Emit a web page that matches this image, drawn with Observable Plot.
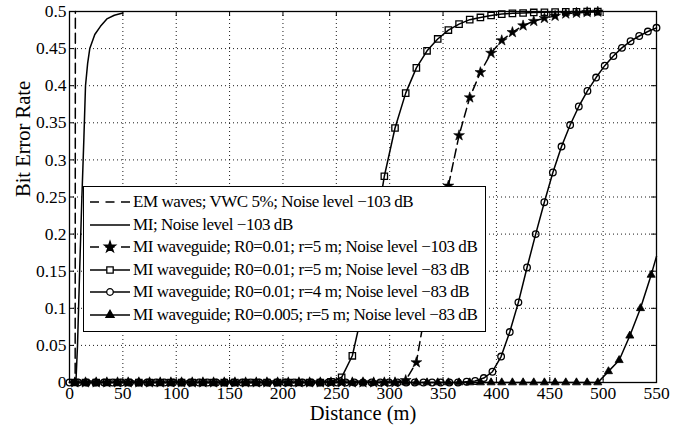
<!DOCTYPE html>
<html><head><meta charset="utf-8">
<script src="https://cdn.jsdelivr.net/npm/d3@7"></script>
<script src="https://cdn.jsdelivr.net/npm/@observablehq/plot@0.6"></script>
<style>
html,body{margin:0;padding:0;background:#fff;}
#wrap{position:relative;width:685px;height:430px;overflow:hidden;background:#fff;}
#wrap svg text{font-family:"Liberation Serif","Times New Roman",serif;}
#legend{position:absolute;left:83px;top:186px;width:403px;height:146px;box-sizing:border-box;border:1.3px solid #000;background:#fff;font-family:"Liberation Serif","Times New Roman",serif;font-size:17px;letter-spacing:-0.45px;color:#000;}
.row{position:absolute;left:0;height:22px;display:flex;align-items:center;white-space:nowrap;}
.row svg{margin-left:6px;margin-right:3px;flex:none;}
</style></head><body>
<div id="wrap"><div id="legend"></div></div>
<script>
// ---- axes ----
const xTicks = [0,50,100,150,200,250,300,350,400,450,500,550];
const yTicks = [0,0.05,0.1,0.15,0.2,0.25,0.3,0.35,0.4,0.45,0.5];
const yTickLabels = ["0","0.05","0.1","0.15","0.2","0.25","0.3","0.35","0.4","0.45","0.5"];
const xLabel = "Distance (m)";
const yLabel = "Bit Error Rate";

// ---- EM waves; VWC 5%; Noise level -103 dB ----
const emX = [0, 5.3, 5.5];
const emY = [0, 0, 0.5];

// ---- MI; Noise level -103 dB ----
const miX = [0, 6, 7.5, 9.5, 11.5, 13.5, 15, 17, 19, 23.7, 29, 35, 42, 50];
const miY = [0, 0, 0.05, 0.15, 0.245, 0.33, 0.40, 0.43, 0.45, 0.469, 0.48, 0.49, 0.495, 0.498];

// ---- waveguide samples, 10 m spacing (stars and squares) ----
const wgX = [5,15,25,35,45,55,65,75,85,95,105,115,125,135,145,155,165,175,185,195,205,215,225,235,245,
             255,265,275,285,295,305,315,325,335,345,355,365,375,385,395,405,415,425,435,445,455,465,475,485,495];
// R0=0.01; r=5 m; Noise -103 dB (stars, dashed)
const starY = [0,0,0,0,0,0,0,0,0,0,0,0,0,0,0,0,0,0,0,0,0,0,0,0,0,0,0,0,0,0,0,
               0.003,0.027,0.11,0.19,0.265,0.333,0.384,0.418,0.444,0.461,0.472,0.481,0.487,0.491,0.494,0.497,0.498,0.499,0.4995];
// R0=0.01; r=5 m; Noise -83 dB (squares)
const squareY = [0,0,0,0,0,0,0,0,0,0,0,0,0,0,0,0,0,0,0,0,0,0,0,0,0.001,
                 0.007,0.036,0.10,0.19,0.278,0.343,0.390,0.424,0.447,0.463,0.475,0.483,0.489,0.492,0.4946,0.4965,0.4975,0.498,0.4987,0.499,0.4993,0.4995,0.4997,0.4998,0.4999];

// ---- R0=0.01; r=4 m; Noise -83 dB (circles) ----
const circleX = [0,8.1,16.2,24.3,32.4,40.4,48.5,56.6,64.7,72.8,80.9,89.0,97.1,105.1,113.2,121.3,129.4,137.5,145.6,153.7,
                 161.8,169.9,177.9,186.0,194.1,202.2,210.3,218.4,226.5,234.6,242.6,250.7,258.8,266.9,275.0,283.1,291.2,299.3,307.4,315.4,
                 323.5,331.6,339.7,347.8,355.9,364.0,372.1,380.1,388.2,396.3,404.4,412.5,420.6,428.7,436.8,444.9,452.9,461.0,469.1,477.2,
                 485.3,493.4,501.5,509.6,517.6,525.7,533.8,541.9,550];
const circleY = [0,0,0,0,0,0,0,0,0,0,0,0,0,0,0,0,0,0,0,0,0,0,0,0,0,0,0,0,0,0,0,0,0,0,0,0,0,0,0,0,0,0,0,0,0,0,
                 0.001,0.002,0.006,0.0145,0.035,0.068,0.108,0.155,0.200,0.243,0.283,0.318,0.347,0.372,0.393,0.411,0.427,0.440,0.451,0.460,0.467,0.473,0.478];

// ---- R0=0.005; r=5 m; Noise -83 dB (triangles: markers, and curve ending at the right edge) ----
const triX = [5,15,25,35,45,55,65,75,85,95,105,115,125,135,145,155,165,175,185,195,205,215,225,235,245,
              255,265,275,285,295,305,315,325,335,345,355,365,375,385,395,405,415,425,435,445,455,465,475,485,495,
              505,515,525,535,545];
const triY = [0,0,0,0,0,0,0,0,0,0,0,0,0,0,0,0,0,0,0,0,0,0,0,0,0,0,0,0,0,0,0,0,0,0,0,0,0,0,0,0,0,0,0,0,0,0,0,0,0,0,
              0.015,0.03,0.063,0.10,0.145];
const triEndX = [550];
const triEndY = [0.17];

const legendLabels = [
  "EM waves; VWC 5%; Noise level \u2212103 dB",
  "MI; Noise level \u2212103 dB",
  "MI waveguide; R0=0.01; r=5 m; Noise level \u2212103 dB",
  "MI waveguide; R0=0.01; r=5 m; Noise level \u221283 dB",
  "MI waveguide; R0=0.01; r=4 m; Noise level \u221283 dB",
  "MI waveguide; R0=0.005; r=5 m; Noise level \u221283 dB"
];

// ---- styles ----
const W = 685, H = 430, mL = 69, mR = 29, mT = 11, mB = 48;
const plotW = W - mL - mR, plotH = H - mT - mB, tickLen = 5;
const LW = 1.5;
const dashEM = "10,5", dashStar = "9,5";
const sym = {
  star: {symbol: "star", r: 3.4, fill: "#000"},
  square: {symbol: "square", r: 3.6, fill: "none"},
  circle: {symbol: "circle", r: 3.3, fill: "none"},
  triangle: {symbol: "triangle", r: 3.0, fill: "#000"}
};
const grid = {stroke: "#000", strokeOpacity: 1, strokeWidth: 0.9, strokeDasharray: "1,3"};
const triLineX = triX.concat(triEndX), triLineY = triY.concat(triEndY);

const chart = Plot.plot({
  width: W, height: H,
  marginLeft: mL, marginRight: mR, marginTop: mT, marginBottom: mB,
  x: {domain: [0, 550]},
  y: {domain: [0, 0.5]},
  style: "font-family: 'Liberation Serif', 'Times New Roman', serif; font-size: 17px; background: #fff; color: #000; overflow: visible;",
  marks: [
    Plot.gridX(xTicks, grid),
    Plot.gridY(yTicks, grid),
    Plot.tickX(xTicks, {x: d => d, insetTop: plotH - tickLen, stroke: "#000"}),
    Plot.tickX(xTicks, {x: d => d, insetBottom: plotH - tickLen, stroke: "#000"}),
    Plot.tickY(yTicks, {y: d => d, insetRight: plotW - tickLen, stroke: "#000"}),
    Plot.tickY(yTicks, {y: d => d, insetLeft: plotW - tickLen, stroke: "#000"}),
    Plot.axisX(xTicks, {tickSize: 0, tickPadding: 4, fontSize: 17.5, label: null}),
    Plot.axisY(yTicks, {tickSize: 0, tickPadding: 3, fontSize: 17.5, label: null, tickFormat: d => yTickLabels[yTicks.indexOf(d)]}),
    Plot.text([xLabel], {text: d => d, frameAnchor: "bottom", dy: 31, fontSize: 20.5, lineAnchor: "middle"}),
    Plot.text([yLabel], {text: d => d, frameAnchor: "left", dx: -46, rotate: -90, fontSize: 20.5, lineAnchor: "middle"}),
    // curves
    Plot.line(emX, {x: emX, y: emY, stroke: "#000", strokeWidth: LW, strokeDasharray: dashEM}),
    Plot.line(miX, {x: miX, y: miY, stroke: "#000", strokeWidth: LW}),
    Plot.line(triLineX, {x: triLineX, y: triLineY, stroke: "#000", strokeWidth: LW}),
    Plot.dot(triX, {x: triX, y: triY, ...sym.triangle, stroke: "#000", strokeWidth: 0.8}),
    Plot.line(circleX, {x: circleX, y: circleY, stroke: "#000", strokeWidth: LW}),
    Plot.dot(circleX, {x: circleX, y: circleY, ...sym.circle, stroke: "#000", strokeWidth: 1.3}),
    Plot.line(wgX, {x: wgX, y: squareY, stroke: "#000", strokeWidth: LW}),
    Plot.dot(wgX, {x: wgX, y: squareY, ...sym.square, stroke: "#000", strokeWidth: 1.3}),
    Plot.line(wgX, {x: wgX, y: starY, stroke: "#000", strokeWidth: LW, strokeDasharray: dashStar}),
    Plot.dot(wgX, {x: wgX, y: starY, ...sym.star, stroke: "#000", strokeWidth: 0.6}),
    Plot.frame({stroke: "#000", strokeWidth: 1.3})
  ]
});

const wrap = document.getElementById("wrap");
const legend = document.getElementById("legend");
wrap.insertBefore(chart, legend);

// legend rows
const legendStyles = [
  {dash: "9,6.5", mark: null},
  {dash: null, mark: null},
  {dash: "9,6.5", mark: "star"},
  {dash: null, mark: "square"},
  {dash: null, mark: "circle"},
  {dash: null, mark: "triangle"}
];
const symbolTypes = {star: d3.symbolStar, square: d3.symbolSquare, circle: d3.symbolCircle, triangle: d3.symbolTriangle};
legendLabels.forEach((label, i) => {
  const row = document.createElement("div");
  row.className = "row";
  row.style.top = (4 + i * 22.6) + "px";
  const st = legendStyles[i];
  const s = d3.create("svg").attr("width", 40).attr("height", 20);
  s.append("line").attr("x1", 0).attr("x2", 40).attr("y1", 10).attr("y2", 10)
    .attr("stroke", "#000").attr("stroke-width", LW)
    .attr("stroke-dasharray", st.dash);
  if (st.mark) {
    const m = sym[st.mark];
    s.append("path").attr("transform", "translate(20,10)")
      .attr("d", d3.symbol(symbolTypes[st.mark], m.r * m.r * Math.PI)())
      .attr("fill", m.fill === "none" ? "#fff" : "#000")
      .attr("stroke", "#000").attr("stroke-width", 1.3);
  }
  row.appendChild(s.node());
  const t = document.createElement("span");
  t.textContent = label;
  row.appendChild(t);
  legend.appendChild(row);
});
</script>
</body></html>
